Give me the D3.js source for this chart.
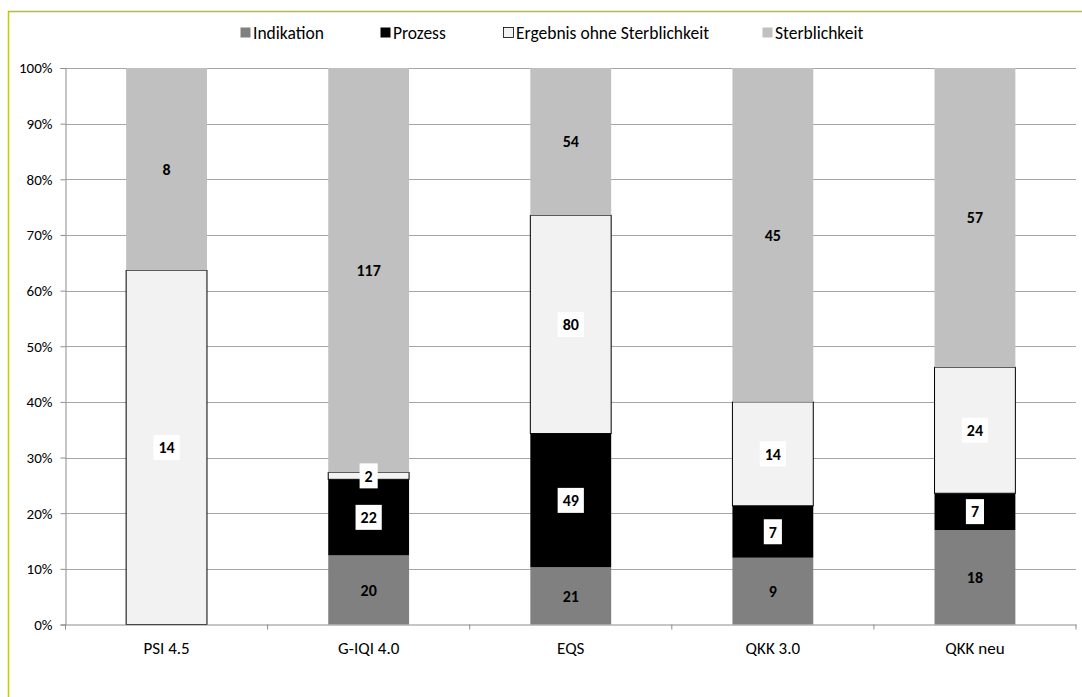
<!DOCTYPE html>
<html>
<head>
<meta charset="utf-8">
<script src="https://cdn.jsdelivr.net/npm/d3@7"></script>
<style>
  html, body { margin: 0; padding: 0; background: #fff; }
  svg { display: block; font-family: Carlito, Lato, "Open Sans", sans-serif; }
</style>
</head>
<body>
<svg id="chart" width="1082" height="697"></svg>
<script>
// Indicator sets and the number of indicators of each type
const categories = ["PSI 4.5", "G-IQI 4.0", "EQS", "QKK 3.0", "QKK neu"];
const seriesNames = ["Indikation", "Prozess", "Ergebnis ohne Sterblichkeit", "Sterblichkeit"];
const indikation = [0, 20, 21, 9, 18];
const prozess = [0, 22, 49, 7, 7];
const ergebnis = [14, 2, 80, 14, 24];
const sterblichkeit = [8, 117, 54, 45, 57];
const yTickLabels = ["0%", "10%", "20%", "30%", "40%", "50%", "60%", "70%", "80%", "90%", "100%"];

const FONT = "Carlito, Lato, 'Open Sans', sans-serif";
const fills = ["#808080", "#000000", "#f2f2f2", "#c0c0c0"];
const strokes = [null, null, "#000000", null];
const boxed = [false, true, true, false];

const rows = categories.map((c, i) => ({
  cat: c,
  "Indikation": indikation[i],
  "Prozess": prozess[i],
  "Ergebnis ohne Sterblichkeit": ergebnis[i],
  "Sterblichkeit": sterblichkeit[i]
}));

const stacked = d3.stack().keys(seriesNames).offset(d3.stackOffsetExpand)(rows);

const svg = d3.select("#chart");
const W = 1082, H = 697;
const m = { left: 65.5, right: 1076, top: 68, bottom: 624.5 };

// frame lines
svg.append("line").attr("x1", 8.5).attr("x2", 8.5).attr("y1", 11).attr("y2", H)
  .attr("stroke", "#c8c800").attr("stroke-width", 1.5);
svg.append("line").attr("x1", 8).attr("x2", W).attr("y1", 11.5).attr("y2", 11.5)
  .attr("stroke", "#b4b84a").attr("stroke-width", 1.5);

const x = d3.scaleBand().domain(categories).range([m.left, m.right]).paddingInner(0.6).paddingOuter(0.3);
const xOuter = d3.scaleBand().domain(categories).range([m.left, m.right]);
const y = d3.scaleLinear().domain([0, 1]).range([m.bottom, m.top]);

// gridlines
const ticks = d3.range(0, 11).map(d => d / 10);
svg.append("g").selectAll("line").data(ticks.slice(1)).join("line")
  .attr("x1", m.left).attr("x2", m.right)
  .attr("y1", d => Math.round(y(d)) + 0.5).attr("y2", d => Math.round(y(d)) + 0.5)
  .attr("stroke", "#a6a6a6").attr("stroke-width", 1);

// y axis
const yAxis = d3.axisLeft(y).tickValues(ticks).tickSize(5).tickFormat((d, i) => yTickLabels[i]);
const gy = svg.append("g").attr("transform", `translate(${m.left},0)`).call(yAxis);
gy.select(".domain").attr("stroke", "#8c8c8c");
gy.selectAll(".tick line").attr("stroke", "#8c8c8c");
gy.selectAll(".tick text").attr("font-size", 15).attr("fill", "#000").attr("x", -13)
  .attr("font-family", FONT);

// bars
const layers = svg.append("g").selectAll("g").data(stacked).join("g")
  .attr("fill", (d, i) => fills[i]);
layers.selectAll("rect").data((d, i) => d.map(v => ({ v, i })).filter(o => o.v.data[seriesNames[o.i]] > 0)).join("rect")
  .attr("x", o => x(o.v.data.cat))
  .attr("width", x.bandwidth())
  .attr("y", o => y(o.v[1]))
  .attr("height", o => y(o.v[0]) - y(o.v[1]))
  .attr("stroke", o => strokes[o.i])
  .attr("stroke-width", 1);

// x axis
const xAxis = d3.axisBottom(xOuter).tickSize(0).tickFormat(d => d);
const gx = svg.append("g").attr("transform", `translate(0,${m.bottom})`).call(xAxis);
gx.select(".domain").attr("stroke", "#8c8c8c");
gx.selectAll(".tick text").attr("font-size", 17).attr("fill", "#000").attr("y", 29).attr("dy", 0)
  .attr("font-family", FONT);
// category boundary ticks
svg.append("g").selectAll("line").data(categories.concat(["_end"])).join("line")
  .attr("x1", (d, i) => i < categories.length ? xOuter(d) : m.right)
  .attr("x2", (d, i) => i < categories.length ? xOuter(d) : m.right)
  .attr("y1", m.bottom).attr("y2", m.bottom + 5)
  .attr("stroke", "#8c8c8c");

// value labels
const labels = svg.append("g");
stacked.forEach((layer, i) => {
  layer.forEach(v => {
    const val = v.data[seriesNames[i]];
    if (!val) return;
    const cx = x(v.data.cat) + x.bandwidth() / 2;
    const cy = (y(v[0]) + y(v[1])) / 2;
    const g = labels.append("g");
    const t = g.append("text").attr("x", cx).attr("y", cy).attr("dy", "0.36em")
      .attr("text-anchor", "middle").attr("font-size", 16).attr("font-weight", "bold")
      .attr("fill", "#000").text(val);
    if (boxed[i]) {
      const bb = t.node().getBBox();
      g.insert("rect", "text").attr("x", bb.x - 5).attr("y", cy - 12.5)
        .attr("width", bb.width + 10).attr("height", 25).attr("fill", "#fff");
    }
  });
});

// legend
const legendX = [240, 380, 503, 762];
const legend = svg.append("g");
seriesNames.forEach((s, i) => {
  legend.append("rect").attr("x", legendX[i] + 0.5).attr("y", 27.5).attr("width", 10).attr("height", 10)
    .attr("fill", fills[i]).attr("stroke", i === 2 ? "#000" : null).attr("stroke-width", 0.8);
  legend.append("text").attr("x", legendX[i] + 13).attr("y", 32.5).attr("dy", "0.35em")
    .attr("font-size", 17.5).attr("fill", "#000").attr("font-family", FONT).text(s);
});
</script>
</body>
</html>
